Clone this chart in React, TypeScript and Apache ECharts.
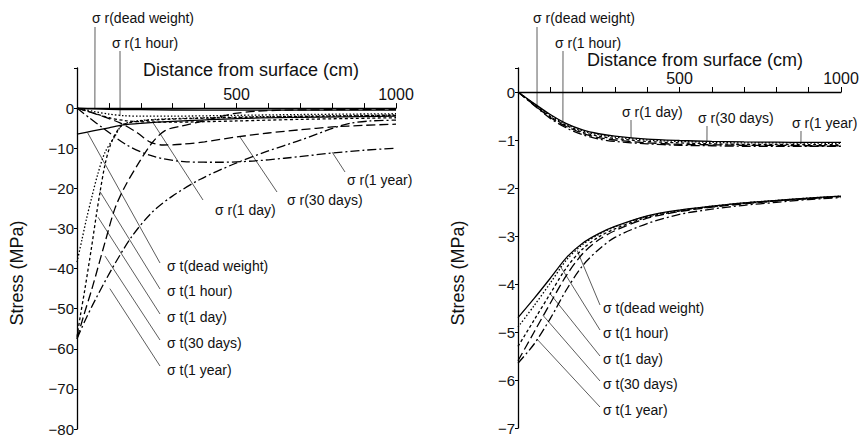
import React, { useEffect, useRef } from "react";
import * as echarts from "echarts";

// ---------- Left chart: radial stress σr ----------
const LR_DW_X = [0, 100, 200, 400, 600, 800, 1000];
const LR_DW_Y = [0, -0.3, -0.4, -0.5, -0.5, -0.5, -0.5];
const LR_X = [0, 50, 100, 150, 200, 300, 500, 700, 1000];
const LR_1H_Y = [0, -0.8, -1.5, -1.9, -2.0, -2.0, -1.8, -1.6, -1.4];
const LR_1D_Y = [0, -1.2, -2.4, -3.1, -3.4, -3.5, -3.2, -2.8, -2.4];
const LR_30D_X = [0, 60, 135, 190, 230, 270, 330, 400, 500, 600, 700, 800, 900, 1000];
const LR_30D_Y = [0, -1.5, -3.7, -6.2, -8.5, -9.2, -9.0, -8.4, -7.2, -6.2, -5.4, -4.7, -4.3, -4.0];
const LR_1Y_X = [0, 40, 82, 156, 238, 344, 450, 550, 650, 800, 900, 1000];
const LR_1Y_Y = [0, -2.5, -5, -9.2, -12, -13.4, -13.5, -13.2, -12.5, -11.2, -10.5, -10];

// ---------- Left chart: tangential stress σt ----------
const LT_DW_X = [0, 50, 100, 145, 200, 300, 500, 700, 1000];
const LT_DW_Y = [-6.5, -5.7, -4.9, -4.2, -3.8, -3.3, -2.6, -2.3, -2.0];
const LT_1H_X = [0, 15, 30, 47, 65, 88, 119, 141, 180, 250, 400, 600, 800, 1000];
const LT_1H_Y = [-38.4, -33, -27.5, -22, -16.5, -11, -7, -4.3, -3.3, -2.8, -2.4, -2.1, -1.9, -1.7];
const LT_1D_X = [0, 10, 25, 45, 60, 72, 88, 103, 120, 141, 180, 250, 400, 600, 800, 1000];
const LT_1D_Y = [-57, -52, -45, -35, -27, -21, -14, -9.6, -6.5, -4.3, -3.4, -2.9, -2.5, -2.2, -2.0, -1.8];
const LT_30D_X = [0, 20, 47, 88, 119, 150, 194, 235, 276, 330, 385, 440, 490, 560, 650, 800, 1000];
const LT_30D_Y = [-57.5, -52, -45, -33.4, -25, -19.6, -13.6, -8.7, -5.6, -4.4, -3.4, -2.3, -1.4, -0.8, -0.5, -0.4, -0.3];
const LT_1Y_X = [0, 25, 56, 110, 172, 235, 298, 385, 490, 595, 700, 803, 856, 920, 1000];
const LT_1Y_Y = [-57.5, -53, -48, -40, -32, -26, -22, -17.8, -14, -10.8, -8, -5, -3.8, -3.2, -3.0];

// ---------- Right chart (shared distances) ----------
const R_X = [0, 50, 100, 150, 200, 250, 300, 400, 500, 600, 700, 800, 900, 1000];
// radial stress σr
const RR_DW_Y = [0, -0.24, -0.47, -0.66, -0.79, -0.87, -0.92, -0.98, -1.01, -1.03, -1.04, -1.045, -1.05, -1.05];
const RR_1H_Y = [0, -0.25, -0.49, -0.68, -0.81, -0.89, -0.94, -1.0, -1.03, -1.05, -1.06, -1.06, -1.065, -1.07];
const RR_1D_Y = [0, -0.26, -0.51, -0.7, -0.84, -0.92, -0.97, -1.03, -1.06, -1.08, -1.09, -1.09, -1.095, -1.1];
const RR_30D_Y = [0, -0.27, -0.53, -0.72, -0.86, -0.95, -1.0, -1.06, -1.09, -1.1, -1.11, -1.11, -1.12, -1.12];
const RR_1Y_Y = [0, -0.28, -0.55, -0.75, -0.89, -0.98, -1.03, -1.08, -1.11, -1.12, -1.13, -1.13, -1.13, -1.13];
// tangential stress σt
const RT_DW_Y = [-4.7, -4.3, -3.88, -3.45, -3.15, -2.95, -2.8, -2.58, -2.46, -2.38, -2.31, -2.26, -2.21, -2.17];
const RT_1H_Y = [-4.9, -4.45, -3.98, -3.5, -3.18, -2.97, -2.81, -2.59, -2.47, -2.38, -2.31, -2.26, -2.21, -2.17];
const RT_1D_Y = [-5.3, -4.75, -4.2, -3.66, -3.27, -3.02, -2.85, -2.61, -2.48, -2.39, -2.32, -2.27, -2.22, -2.18];
const RT_30D_Y = [-5.6, -5.0, -4.4, -3.82, -3.37, -3.08, -2.89, -2.63, -2.49, -2.4, -2.33, -2.27, -2.22, -2.18];
const RT_1Y_Y = [-5.65, -5.25, -4.72, -4.12, -3.62, -3.28, -3.03, -2.74, -2.55, -2.44, -2.36, -2.3, -2.24, -2.2];

// ---------- Axis ranges / ticks ----------
const LEFT_Y = { min: -80, max: 10, interval: 10 };
const RIGHT_Y = { min: -7, max: 0.5, interval: 1 };
const X_RANGE = { min: 0, max: 1000, interval: 100 };
const X_LABELS = [500, 1000];

// ---------- Annotations: [text, labelX(px), labelY(px), leaderStartX, leaderStartY, anchorDataX, anchorDataY, grid] ----------
const ANNOTATIONS: [string, number, number, number, number, number, number, number][] = [
  ["σ r(dead weight)", 92, 18, 95, 27, 56, -0.2, 0],
  ["σ r(1 hour)", 112, 43, 120, 51, 135, -2.0, 0],
  ["σ r(1 day)", 215, 210, 203, 200, 238, -3.6, 0],
  ["σ r(30 days)", 287, 200, 277, 192, 510, -7.1, 0],
  ["σ r(1 year)", 347, 180, 345, 172, 800, -11.0, 0],
  ["σ t(dead weight)", 167, 266, 160, 263, 33, -6.1, 0],
  ["σ t(1 hour)", 167, 291, 160, 289, 72, -20.8, 0],
  ["σ t(1 day)", 167, 317, 160, 314, 66, -27.2, 0],
  ["σ t(30 days)", 167, 343, 160, 340, 88, -36.9, 0],
  ["σ t(1 year)", 167, 370, 160, 366, 103, -45, 0],
  ["σ r(dead weight)", 533, 18, 537, 27, 59, -0.28, 1],
  ["σ r(1 hour)", 555, 43, 563, 51, 139, -0.63, 1],
  ["σ r(1 day)", 622, 112, 631, 120, 350, -0.97, 1],
  ["σ r(30 days)", 698, 118, 707, 126, 585, -1.02, 1],
  ["σ r(1 year)", 792, 123, 801, 131, 876, -1.05, 1],
  ["σ t(dead weight)", 603, 308, 600, 305, 183, -3.3, 1],
  ["σ t(1 hour)", 603, 333, 600, 330, 130, -3.62, 1],
  ["σ t(1 day)", 603, 359, 600, 356, 99, -4.2, 1],
  ["σ t(30 days)", 603, 384, 600, 381, 77, -4.65, 1],
  ["σ t(1 year)", 603, 410, 600, 407, 59, -5.15, 1],
];

const FONT = '"Liberation Sans", Arial, Helvetica, sans-serif';

const STYLES: Record<string, { type: any; width: number }> = {
  dw: { type: "solid", width: 1.3 },
  h1: { type: [1.5, 2], width: 1.3 },
  d1: { type: [3, 2.5], width: 1.3 },
  d30: { type: [9, 4], width: 1.3 },
  y1: { type: [9, 3, 2, 3], width: 1.3 },
};

function zip(xs: number[], ys: number[]) {
  return xs.map((x, i) => [x, ys[i]]);
}

function line(name: string, xs: number[], ys: number[], style: string, idx: number) {
  const s = STYLES[style];
  return {
    name,
    type: "line",
    xAxisIndex: idx,
    yAxisIndex: idx,
    data: zip(xs, ys),
    showSymbol: false,
    symbol: "none",
    smooth: 0.3,
    lineStyle: { color: "#000", width: s.width, type: s.type },
    silent: true,
  };
}

function xAxis(gridIndex: number) {
  return {
    type: "value",
    gridIndex,
    ...X_RANGE,
    position: "top",
    axisLine: { onZero: true, lineStyle: { color: "#000", width: 1.3 } },
    axisTick: { show: true, inside: false, length: 5, lineStyle: { color: "#000", width: 1 } },
    axisLabel: { show: false },
    splitLine: { show: false },
  };
}

function yAxis(gridIndex: number, r: { min: number; max: number; interval: number }) {
  return {
    type: "value",
    gridIndex,
    ...r,
    axisLine: { onZero: false, lineStyle: { color: "#000", width: 1.3 } },
    axisTick: { show: true, inside: false, length: 3, lineStyle: { color: "#000", width: 1 } },
    axisLabel: {
      margin: 3,
      fontSize: 15,
      fontFamily: FONT,
      color: "#111",
      formatter: (v: number) => (v > 0 ? "" : String(v).replace("-", "−")),
    },
    splitLine: { show: false },
  };
}

export default function App() {
  const ref = useRef<HTMLDivElement>(null);
  useEffect(() => {
    if (!ref.current) return;
    const chart = echarts.init(ref.current, undefined, { renderer: "svg" });
    const option: any = {
      animation: false,
      backgroundColor: "#fff",
      grid: [
        { left: 77, top: 68, width: 319, height: 361, containLabel: false, outerBoundsMode: "none" },
        { left: 518, top: 68, width: 323, height: 360, containLabel: false, outerBoundsMode: "none" },
      ],
      xAxis: [xAxis(0), xAxis(1)],
      yAxis: [yAxis(0, LEFT_Y), yAxis(1, RIGHT_Y)],
      series: [
        line("σr(dead weight)", LR_DW_X, LR_DW_Y, "dw", 0),
        line("σr(1 hour)", LR_X, LR_1H_Y, "h1", 0),
        line("σr(1 day)", LR_X, LR_1D_Y, "d1", 0),
        line("σr(30 days)", LR_30D_X, LR_30D_Y, "d30", 0),
        line("σr(1 year)", LR_1Y_X, LR_1Y_Y, "y1", 0),
        line("σt(dead weight)", LT_DW_X, LT_DW_Y, "dw", 0),
        line("σt(1 hour)", LT_1H_X, LT_1H_Y, "h1", 0),
        line("σt(1 day)", LT_1D_X, LT_1D_Y, "d1", 0),
        line("σt(30 days)", LT_30D_X, LT_30D_Y, "d30", 0),
        line("σt(1 year)", LT_1Y_X, LT_1Y_Y, "y1", 0),
        line("σr(dead weight) R", R_X, RR_DW_Y, "dw", 1),
        line("σr(1 hour) R", R_X, RR_1H_Y, "h1", 1),
        line("σr(1 day) R", R_X, RR_1D_Y, "d1", 1),
        line("σr(30 days) R", R_X, RR_30D_Y, "d30", 1),
        line("σr(1 year) R", R_X, RR_1Y_Y, "y1", 1),
        line("σt(dead weight) R", R_X, RT_DW_Y, "dw", 1),
        line("σt(1 hour) R", R_X, RT_1H_Y, "h1", 1),
        line("σt(1 day) R", R_X, RT_1D_Y, "d1", 1),
        line("σt(30 days) R", R_X, RT_30D_Y, "d30", 1),
        line("σt(1 year) R", R_X, RT_1Y_Y, "y1", 1),
      ],
    };
    chart.setOption(option);

    const graphics: any[] = [];
    ANNOTATIONS.forEach(([text, lx, ly, sx, sy, ax, ay, g]) => {
      const p = chart.convertToPixel({ gridIndex: g }, [ax, ay]) as number[];
      graphics.push({
        type: "line",
        silent: true,
        shape: { x1: sx, y1: sy, x2: p[0], y2: p[1] },
        style: { stroke: "#333", lineWidth: 0.8 },
      });
      graphics.push({
        type: "text",
        silent: true,
        x: lx,
        y: ly,
        style: { text, font: `14px ${FONT}`, fill: "#111", textAlign: "left", textVerticalAlign: "middle" },
      });
    });
    // x tick labels (500, 1000) just above the zero line
    [0, 1].forEach((g) => {
      X_LABELS.forEach((v) => {
        const p = chart.convertToPixel({ gridIndex: g }, [v, 0]) as number[];
        graphics.push({
          type: "text",
          silent: true,
          x: p[0],
          y: p[1] - 6,
          style: { text: String(v), font: `16px ${FONT}`, fill: "#111", textAlign: "center", textVerticalAlign: "bottom" },
        });
      });
    });
    const names: [string, number, number, number][] = [
      ["Distance from surface (cm)", 251, 70, 0],
      ["Distance from surface (cm)", 695, 60, 0],
      ["Stress (MPa)", 17, 273, Math.PI / 2],
      ["Stress (MPa)", 458, 273, Math.PI / 2],
    ];
    names.forEach(([text, x, y, rot]) => {
      graphics.push({
        type: "text",
        silent: true,
        x,
        y,
        rotation: rot,
        style: { text, font: `18px ${FONT}`, fill: "#111", textAlign: "center", textVerticalAlign: "middle" },
      });
    });
    chart.setOption({ graphic: graphics });

    return () => chart.dispose();
  }, []);
  return (
    <div
      ref={ref}
      style={{ position: "absolute", left: 0, top: 0, width: 861, height: 437, background: "#fff" }}
    />
  );
}
